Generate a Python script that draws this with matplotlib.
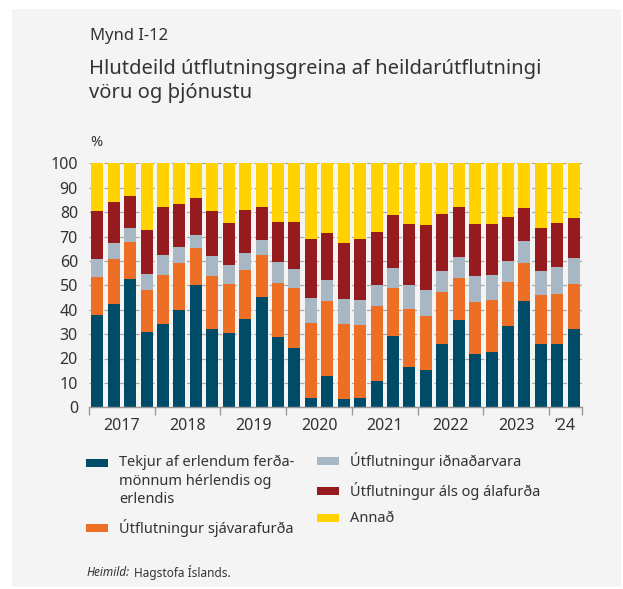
import numpy as np
import matplotlib
matplotlib.use('Agg')
import matplotlib.pyplot as plt
from matplotlib.patches import Rectangle

plt.rcParams['font.family'] = ['Noto Sans', 'DejaVu Sans']

# ársfjórðungar 2017 Q1 - 2024 Q2
years = ['2017', '2018', '2019', '2020', '2021', '2022', '2023', '\u201824']
quarters_per_year = [4, 4, 4, 4, 4, 4, 4, 2]

# hlutdeild, %
ferdamenn = [37.8, 42.3, 52.6, 30.9, 34.2, 39.9, 50.1, 32.1, 30.5, 36.2, 45.2, 28.8,
             24.3, 3.8, 12.8, 3.4, 3.8, 10.8, 29.2, 16.5, 15.3, 26.0, 35.8, 21.9,
             22.7, 33.3, 43.6, 26.0, 26.0, 32.1]
sjavar = [15.6, 18.5, 15.2, 17.2, 20.0, 19.3, 15.2, 21.7, 20.0, 20.1, 17.2, 22.2,
          24.6, 30.8, 30.8, 30.8, 29.9, 30.7, 19.7, 23.8, 22.1, 21.3, 17.2, 21.3,
          21.3, 18.1, 15.6, 20.0, 20.4, 18.4]
idnadur = [7.4, 6.5, 5.7, 6.5, 8.2, 6.5, 5.3, 8.2, 7.8, 7.0, 6.2, 8.6,
           7.8, 10.2, 8.6, 10.2, 10.3, 8.6, 8.2, 9.8, 10.7, 8.6, 8.6, 10.6,
           10.2, 8.6, 9.0, 9.9, 11.1, 10.7]
al = [19.7, 16.9, 13.1, 18.1, 19.7, 17.6, 15.2, 18.5, 17.2, 17.6, 13.5, 16.4,
      19.3, 24.2, 19.2, 22.9, 25.0, 21.8, 21.7, 25.0, 26.6, 23.3, 20.5, 21.3,
      20.9, 18.0, 13.5, 17.6, 18.0, 16.4]
annad = [19.5, 15.8, 13.4, 27.3, 17.9, 16.7, 14.2, 19.5, 24.5, 19.1, 17.9, 24.0,
         24.0, 31.0, 28.6, 32.7, 31.0, 28.1, 21.2, 24.9, 25.3, 20.8, 17.9, 24.9,
         24.9, 22.0, 18.3, 26.5, 24.5, 22.4]

series = [
    ('Tekjur af erlendum ferða-\nmönnum hérlendis og\nerlendis', ferdamenn, '#004b67'),
    ('Útflutningur sjávarafurða', sjavar, '#ec6f25'),
    ('Útflutningur iðnaðarvara', idnadur, '#a7b8c4'),
    ('Útflutningur áls og álafurða', al, '#951b1f'),
    ('Annað', annad, '#ffd200'),
]

BG = '#f4f4f4'
TXT = '#333333'
W, H = 623, 589

def fx(px): return px / W
def fy(py): return 1 - py / H

fig = plt.figure(figsize=(W / 100, H / 100), dpi=100, facecolor='white')
fig.patches.append(Rectangle((fx(12), fy(587)), 609 / W, 578 / H,
                             transform=fig.transFigure, facecolor=BG,
                             edgecolor='none', zorder=-10))

ax = fig.add_axes([fx(89), fy(407.3), fx(582) - fx(89), fy(163.3) - fy(407.3)])
ax.set_facecolor(BG)

x = np.arange(len(ferdamenn))
bottom = np.zeros(len(x))
for label, vals, col in series:
    ax.bar(x, vals, bottom=bottom, width=0.73, color=col, zorder=2)
    bottom += np.array(vals)

ax.set_xlim(-0.5, len(x) - 0.5)
ax.set_ylim(0, 100)
ax.set_yticks(np.arange(0, 101, 10))
ax.yaxis.grid(True, color='#aaaaaa', linewidth=0.9, linestyle=(0, (4, 2)), zorder=0)
ax.tick_params(axis='y', length=0, pad=8, labelsize=11.5, labelcolor=TXT)

# ártalsmörk og merkingar
edges = np.concatenate([[0], np.cumsum(quarters_per_year)]) - 0.5
centers = (edges[:-1] + edges[1:]) / 2
ax.set_xticks(edges)
ax.set_xticklabels([])
ax.set_xticks(centers, minor=True)
ax.set_xticklabels(years, minor=True)
ax.tick_params(axis='x', which='major', length=6, width=1, color='#999999', direction='out')
ax.tick_params(axis='x', which='minor', length=0, pad=8, labelsize=11.5, labelcolor=TXT)

for s in ['top', 'right', 'left']:
    ax.spines[s].set_visible(False)
ax.spines['bottom'].set_color('#999999')
ax.spines['bottom'].set_linewidth(1)
ax.spines['bottom'].set_zorder(3)

# textar
fig.text(fx(90), fy(36), 'Mynd I-12', fontsize=12, color=TXT, va='center')
fig.text(fx(89), fy(81), 'Hlutdeild útflutningsgreina af heildarútflutningi\nvöru og þjónustu',
         fontsize=14.5, color=TXT, va='center', linespacing=1.3)
fig.text(fx(90), fy(142), '%', fontsize=10.5, color=TXT, va='center')

# skýringar
leg = [(86, 463, 0), (86, 528, 1), (317, 461, 2), (317, 491, 3), (317, 518, 4)]
for px, py, i in leg:
    label, vals, col = series[i]
    fig.patches.append(Rectangle((fx(px), fy(py + 4)), 22 / W, 8 / H,
                                 transform=fig.transFigure, facecolor=col, edgecolor='none'))
    if i == 0:
        fig.text(fx(px + 33), fy(py - 8), label, fontsize=10.5, color=TXT, va='top',
                 linespacing=1.3)
    else:
        fig.text(fx(px + 33), fy(py), label, fontsize=10.5, color=TXT, va='center')

fig.text(fx(87), fy(573), 'Heimild:', fontsize=8.5, color=TXT, va='center', style='italic')
fig.text(fx(134), fy(573), 'Hagstofa Íslands.', fontsize=8.5, color=TXT, va='center')

fig.savefig('out.png', dpi=100, facecolor='white')
